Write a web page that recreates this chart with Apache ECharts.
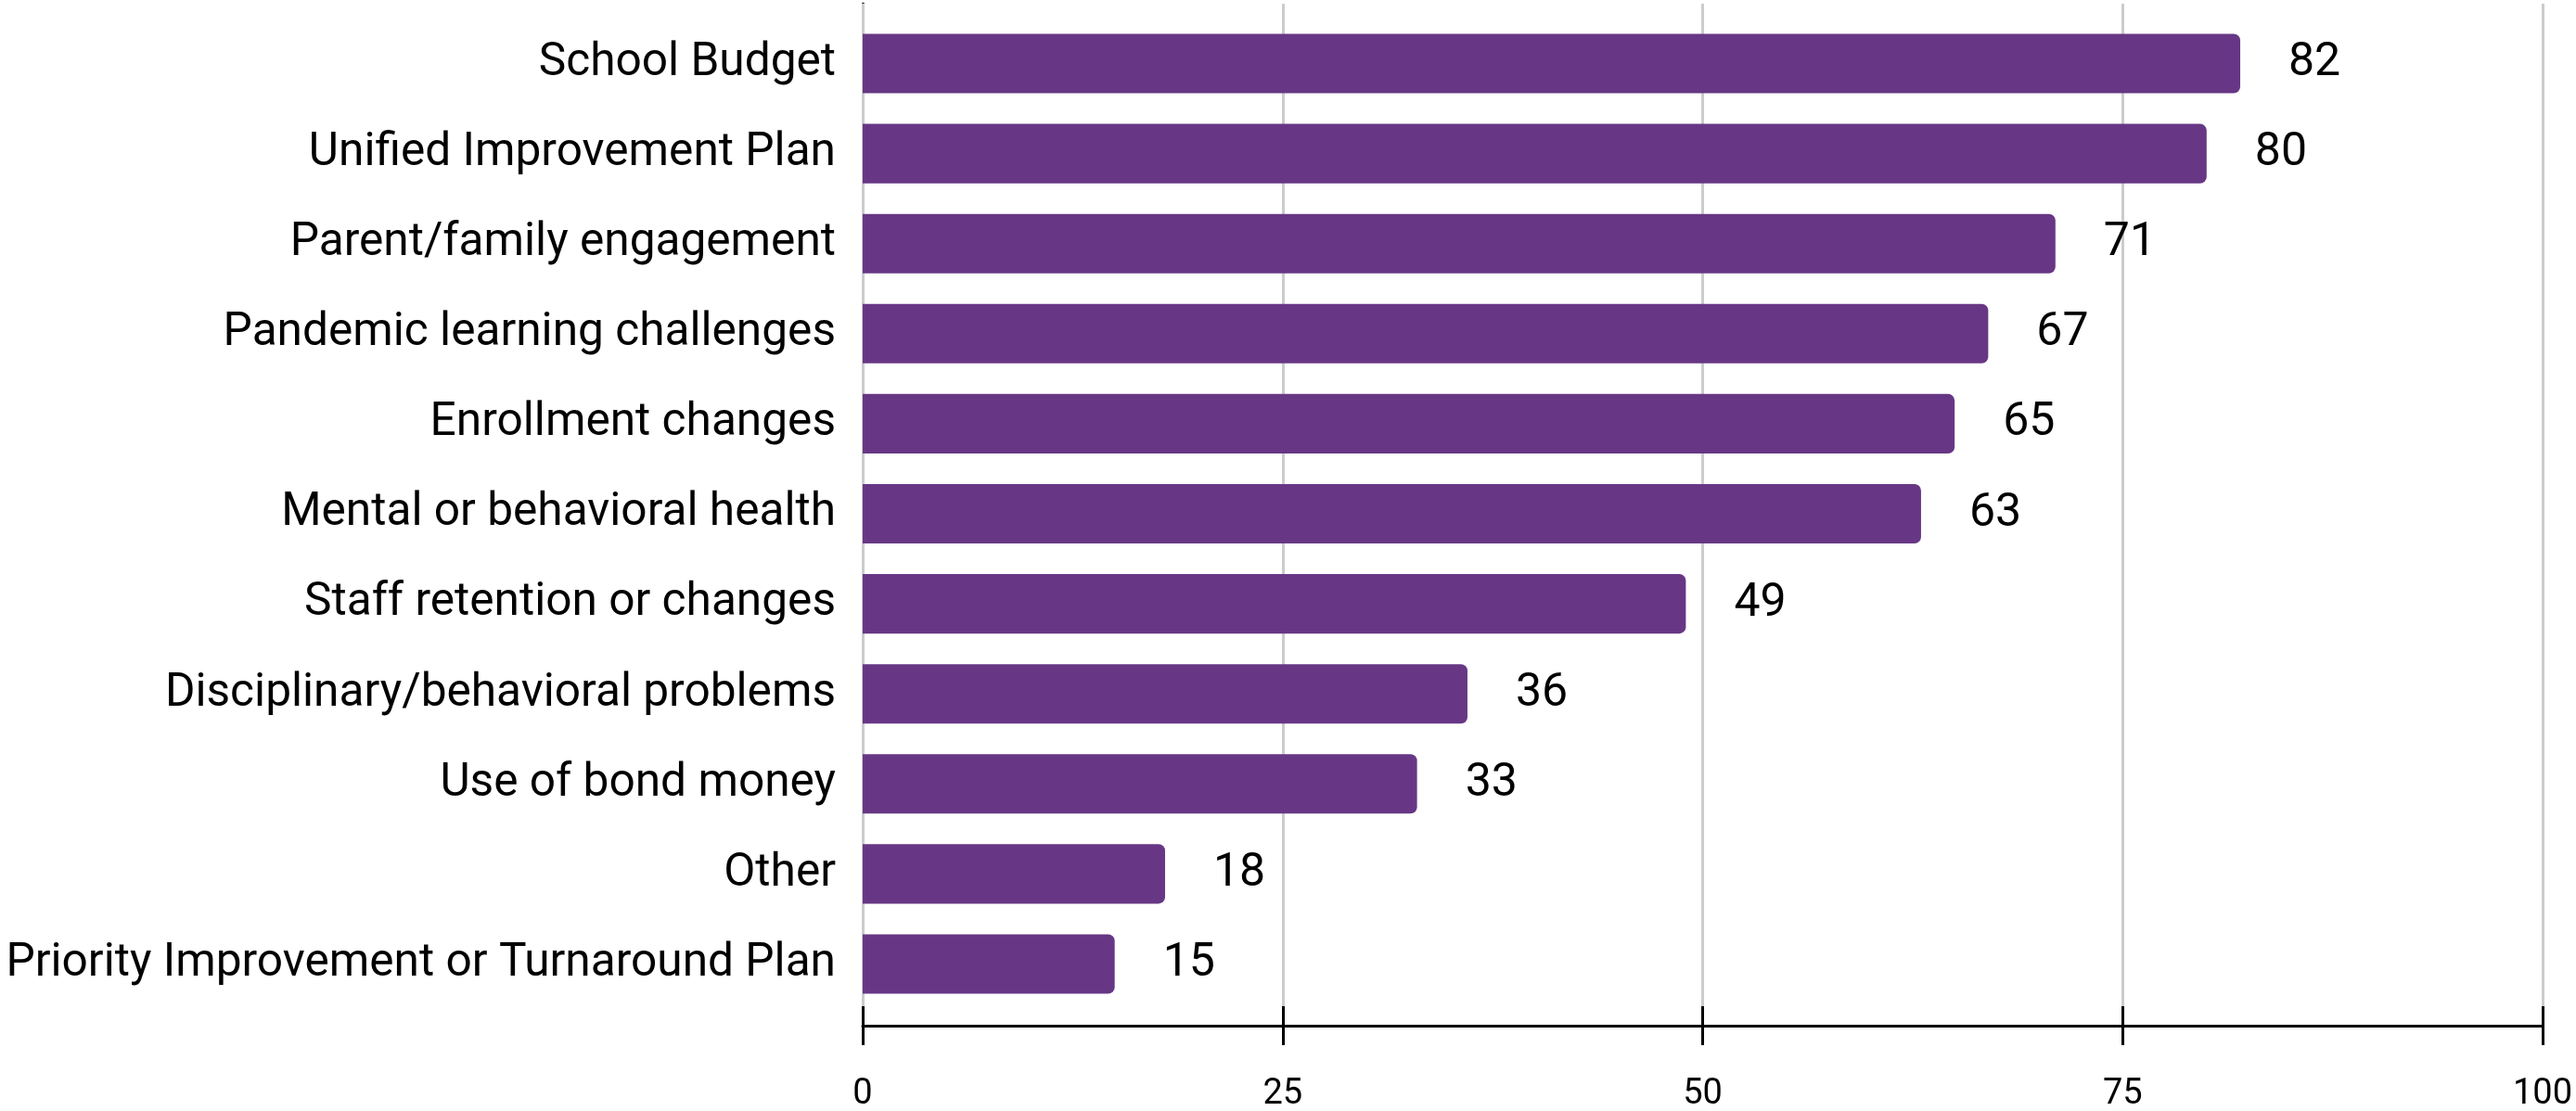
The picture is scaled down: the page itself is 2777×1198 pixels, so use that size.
<!DOCTYPE html>
<html>
<head>
<meta charset="utf-8">
<script src="https://cdn.jsdelivr.net/npm/echarts@6/dist/echarts.min.js"></script>
<style>
html,body{margin:0;padding:0;background:#fff;}
#chart{width:2777px;height:1198px;}
</style>
</head>
<body>
<div id="chart"></div>
<script>
const categories = [
  "School Budget",
  "Unified Improvement Plan",
  "Parent/family engagement",
  "Pandemic learning challenges",
  "Enrollment changes",
  "Mental or behavioral health",
  "Staff retention or changes",
  "Disciplinary/behavioral problems",
  "Use of bond money",
  "Other",
  "Priority Improvement or Turnaround Plan"
];
const values = [82, 80, 71, 67, 65, 63, 49, 36, 33, 18, 15];
const xTicks = [0, 25, 50, 75, 100];

const FONT = 'Roboto, "Noto Sans", sans-serif';
const chart = echarts.init(document.getElementById('chart'), null, {renderer: 'canvas'});
chart.setOption({
  backgroundColor: '#fff',
  animation: false,
  grid: [
    {left: 930, right: 36, top: 20, height: 1068, containLabel: false, outerBoundsMode: 'none'},
    {left: 930, right: 36, top: 4, height: 1102, containLabel: false, outerBoundsMode: 'none'}
  ],
  xAxis: [
    {gridIndex: 0, type: 'value', min: 0, max: 100, show: false},
    {gridIndex: 1, type: 'value', min: xTicks[0], max: xTicks[xTicks.length-1], interval: 25, position: 'bottom',
     axisLine: {show: true, onZero: false, lineStyle: {color: '#000', width: 3}},
     axisTick: {show: true, length: 21, lineStyle: {color: '#000', width: 3}},
     axisLabel: {show: true, fontSize: 38, color: '#000', fontFamily: FONT, margin: 55},
     splitLine: {show: true, lineStyle: {color: '#cccccc', width: 3}}, z: 3},
    {gridIndex: 1, type: 'value', min: xTicks[0], max: xTicks[xTicks.length-1], interval: 25, position: 'bottom',
     axisLine: {show: false, onZero: false},
     axisTick: {show: true, inside: true, length: 21, lineStyle: {color: '#000', width: 3}},
     axisLabel: {show: false}, splitLine: {show: false}, z: 4}
  ],
  yAxis: [
    {gridIndex: 0, type: 'category', data: categories, inverse: true,
     axisLine: {show: false}, axisTick: {show: false}, splitLine: {show: false},
     axisLabel: {show: true, fontSize: 49.6, color: '#000', fontFamily: FONT, margin: 29}},
    {gridIndex: 1, type: 'value', min: 0, max: 1,
     axisLine: {show: true, onZero: false, lineStyle: {color: '#333', width: 3}},
     axisTick: {show: false}, axisLabel: {show: false}, splitLine: {show: false}, z: 2}
  ],
  series: [{
    type: 'bar', xAxisIndex: 0, yAxisIndex: 0, data: values,
    barCategoryGap: '34%',
    itemStyle: {color: '#673785', borderRadius: [0, 7, 7, 0]},
    label: {show: true, position: 'right', distance: 52, fontSize: 50, color: '#000', fontFamily: FONT},
    z: 5
  }]
});
</script>
</body>
</html>
